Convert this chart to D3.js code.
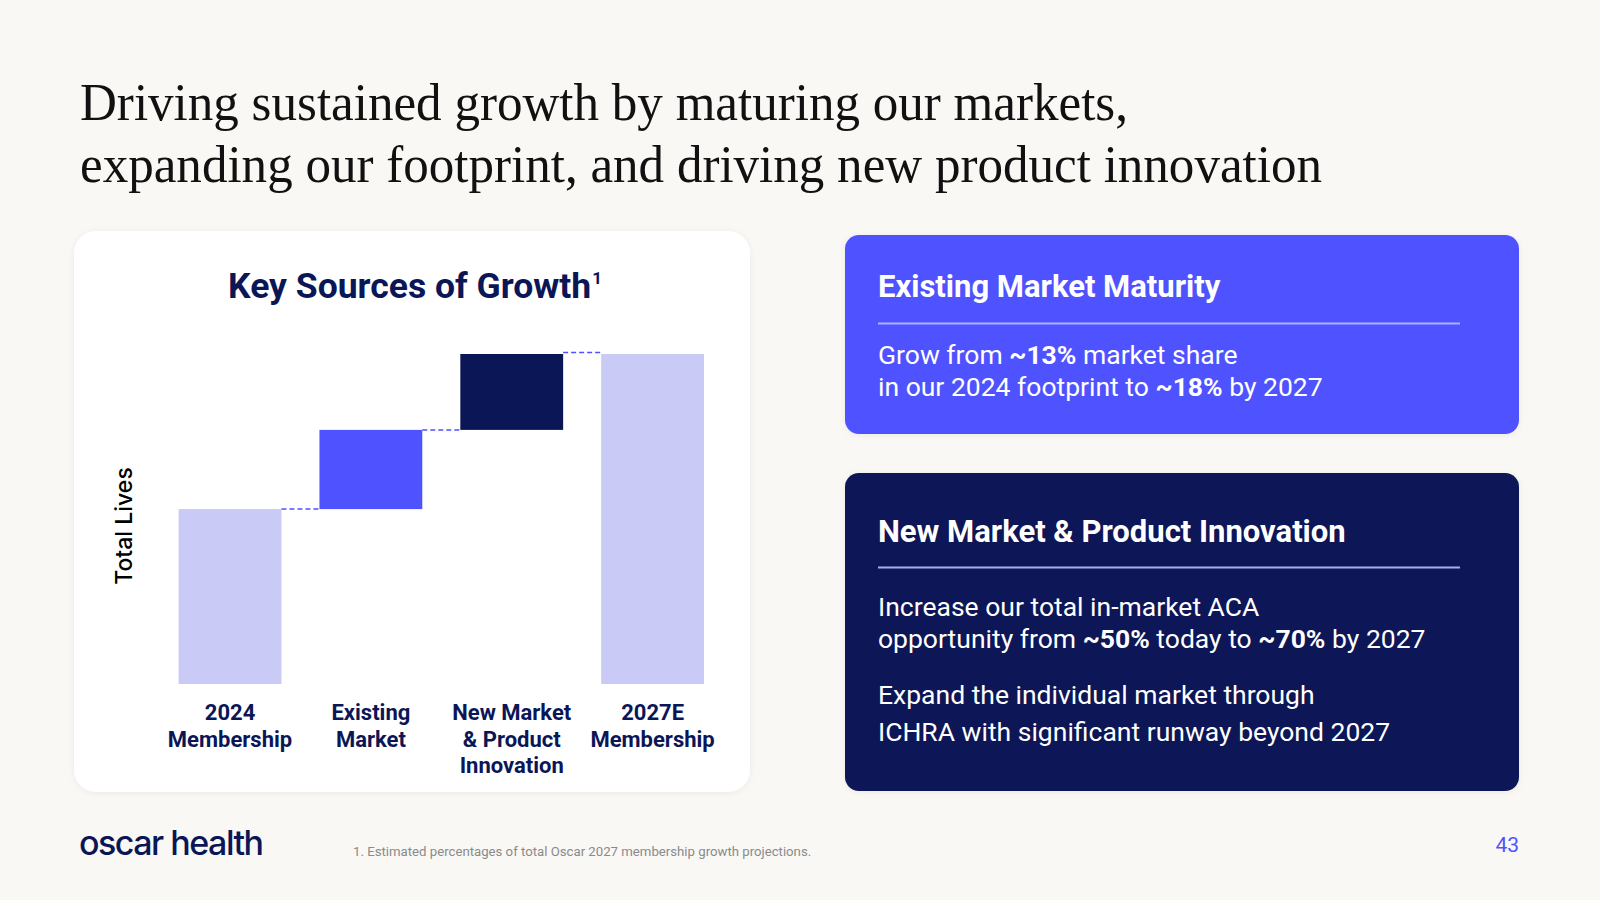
<!DOCTYPE html>
<html>
<head>
<meta charset="utf-8">
<script src="https://cdn.jsdelivr.net/npm/d3@7"></script>
<style>
  body { margin: 0; background: #f9f8f5; }
  svg { display: block; }
</style>
</head>
<body>
<div id="chart"></div>
<script>
// waterfall data (relative share of total lives)
var categories = ["2024|Membership", "Existing|Market", "New Market|& Product|Innovation", "2027E|Membership"]
var steps = [53, 24, 23, null]   // null = total bar
var barColors = ["#c9caf5", "#4f52ff", "#0b1657", "#c9caf5"]

var titleLines = ["Driving sustained growth by maturing our markets,",
                  "expanding our footprint, and driving new product innovation"]
var titleWidths = [1048, 1242]

var box1Lines = [
  [["Grow from ", 0], ["~13%", 1], [" market share", 0]],
  [["in our 2024 footprint to ", 0], ["~18%", 1], [" by 2027", 0]]
]
var box2Lines = [
  [["Increase our total in-market ACA", 0]],
  [["opportunity from ", 0], ["~50%", 1], [" today to ", 0], ["~70%", 1], [" by 2027", 0]],
  [["Expand the individual market through", 0]],
  [["ICHRA with significant runway beyond 2027", 0]]
]

var navy = "#0b1657"
var blue = "#4f52ff"

var svg = d3.select('#chart').append('svg')
  .attr('width', 1600)
  .attr('height', 900)

svg.append('rect').attr('width', 1600).attr('height', 900).attr('fill', '#f9f8f5')

// headline
svg.append('g').selectAll('text')
  .data(titleLines)
  .enter().append('text')
  .attr('x', 80)
  .attr('y', function(d, i) { return 120 + i * 62 })
  .attr('font-family', 'Liberation Serif, Times New Roman, serif')
  .attr('font-size', 53)
  .attr('fill', '#111')
  .attr('textLength', function(d, i) { return titleWidths[i] })
  .attr('lengthAdjust', 'spacingAndGlyphs')
  .text(function(d) { return d })

// chart card
var defs = svg.append('defs')
var f = defs.append('filter').attr('id', 'sh').attr('x', '-10%').attr('y', '-10%').attr('width', '120%').attr('height', '120%')
f.append('feDropShadow').attr('dx', 0).attr('dy', 1).attr('stdDeviation', 3).attr('flood-color', '#000').attr('flood-opacity', 0.06)

svg.append('rect')
  .attr('x', 74).attr('y', 231).attr('width', 676).attr('height', 561)
  .attr('rx', 22).attr('fill', '#fff').attr('filter', 'url(#sh)')

var ct = svg.append('text')
  .attr('x', 415).attr('y', 298)
  .attr('text-anchor', 'middle')
  .attr('font-family', 'Roboto, sans-serif')
  .attr('font-weight', 700)
  .attr('font-size', 35.5)
  .attr('fill', navy)
ct.append('tspan').text('Key Sources of Growth')
ct.append('tspan').attr('font-size', 17).attr('dx', 1).attr('dy', -14).text('1')

// waterfall geometry
var running = 0
var bars = steps.map(function(v, i) {
  var start, end
  if (v === null) { start = 0; end = running }
  else if (i === 0) { start = 0; end = v; running = v }
  else { start = running; end = running + v; running = end }
  return { cat: categories[i], start: start, end: end, color: barColors[i] }
})

var x = d3.scaleBand()
  .domain(categories)
  .range([178.6, 704])
  .paddingInner(0.27)
  .paddingOuter(0)

var y = d3.scaleLinear()
  .domain([0, d3.max(bars, function(d) { return d.end })])
  .range([684, 354])

var g = svg.append('g')

g.selectAll('rect.bar')
  .data(bars)
  .enter().append('rect')
  .attr('class', 'bar')
  .attr('x', function(d) { return x(d.cat) })
  .attr('y', function(d) { return y(d.end) })
  .attr('width', x.bandwidth())
  .attr('height', function(d) { return y(d.start) - y(d.end) })
  .attr('fill', function(d) { return d.color })

// dashed connectors
g.selectAll('line.conn')
  .data(bars.slice(0, -1))
  .enter().append('line')
  .attr('class', 'conn')
  .attr('x1', function(d) { return x(d.cat) + x.bandwidth() })
  .attr('x2', function(d, i) { return x(bars[i + 1].cat) })
  .attr('y1', function(d) { return y(d.end) - (d === bars[2] ? 1.5 : 0) })
  .attr('y2', function(d) { return y(d.end) - (d === bars[2] ? 1.5 : 0) })
  .attr('stroke', blue)
  .attr('stroke-width', 1.5)
  .attr('stroke-dasharray', '5,3')

// x axis labels
var xAxis = d3.axisBottom(x).tickSize(0).tickPadding(0)
var ax = g.append('g')
  .attr('transform', 'translate(0,684)')
  .call(xAxis)
ax.select('.domain').remove()
ax.selectAll('.tick text').remove()
ax.selectAll('.tick').each(function(d) {
  var t = d3.select(this).append('text')
    .attr('text-anchor', 'middle')
    .attr('font-family', 'Roboto, sans-serif')
    .attr('font-weight', 700)
    .attr('font-size', 22)
    .attr('fill', navy)
  d.split('|').forEach(function(line, i) {
    t.append('tspan').attr('x', 0).attr('y', 36 + i * 26.5).text(line)
  })
})

svg.append('text')
  .attr('transform', 'translate(132,526) rotate(-90)')
  .attr('text-anchor', 'middle')
  .attr('font-family', 'Inter, sans-serif')
  .attr('font-weight', 500)
  .attr('font-size', 23)
  .attr('fill', '#000')
  .text('Total Lives')

// right info boxes
function richLine(sel, segs, xPos, yPos, size) {
  var t = sel.append('text')
    .attr('x', xPos).attr('y', yPos)
    .attr('font-family', 'Roboto, sans-serif')
    .attr('font-size', size)
    .attr('fill', '#fff')
  segs.forEach(function(s) {
    t.append('tspan').attr('font-weight', s[1] ? 700 : 400).text(s[0])
  })
}

function box(yTop, h, fill, title, titleY, ruleY, ruleColor, lines, lineYs) {
  var b = svg.append('g')
  b.append('rect')
    .attr('x', 845).attr('y', yTop).attr('width', 674).attr('height', h)
    .attr('rx', 14).attr('fill', fill).attr('filter', 'url(#sh)')
  b.append('text')
    .attr('x', 878).attr('y', titleY)
    .attr('font-family', 'Roboto, sans-serif')
    .attr('font-weight', 700)
    .attr('font-size', 31)
    .attr('fill', '#fff')
    .text(title)
  b.append('line')
    .attr('x1', 878).attr('x2', 1460)
    .attr('y1', ruleY).attr('y2', ruleY)
    .attr('stroke', ruleColor).attr('stroke-width', 2)
  lines.forEach(function(l, i) { richLine(b, l, 878, lineYs[i], 26.5) })
}

box(235, 199, blue, 'Existing Market Maturity', 297, 323.5, '#aeb0ff', box1Lines, [364, 396])
box(473, 318, navy, 'New Market & Product Innovation', 542, 567.5, '#a9acec', box2Lines, [616, 648, 704, 741])

// footer
svg.append('text')
  .attr('x', 79).attr('y', 855)
  .attr('font-family', 'Inter, sans-serif')
  .attr('font-weight', 500)
  .attr('font-size', 34)
  .attr('letter-spacing', -1.5)
  .attr('fill', navy)
  .text('oscar health')

svg.append('text')
  .attr('x', 353).attr('y', 856)
  .attr('font-family', 'Roboto, sans-serif')
  .attr('font-size', 13.2)
  .attr('fill', '#8a8a8a')
  .text('1. Estimated percentages of total Oscar 2027 membership growth projections.')

svg.append('text')
  .attr('x', 1519).attr('y', 852)
  .attr('text-anchor', 'end')
  .attr('font-family', 'Roboto, sans-serif')
  .attr('font-size', 21)
  .attr('fill', blue)
  .text('43')
</script>
</body>
</html>
